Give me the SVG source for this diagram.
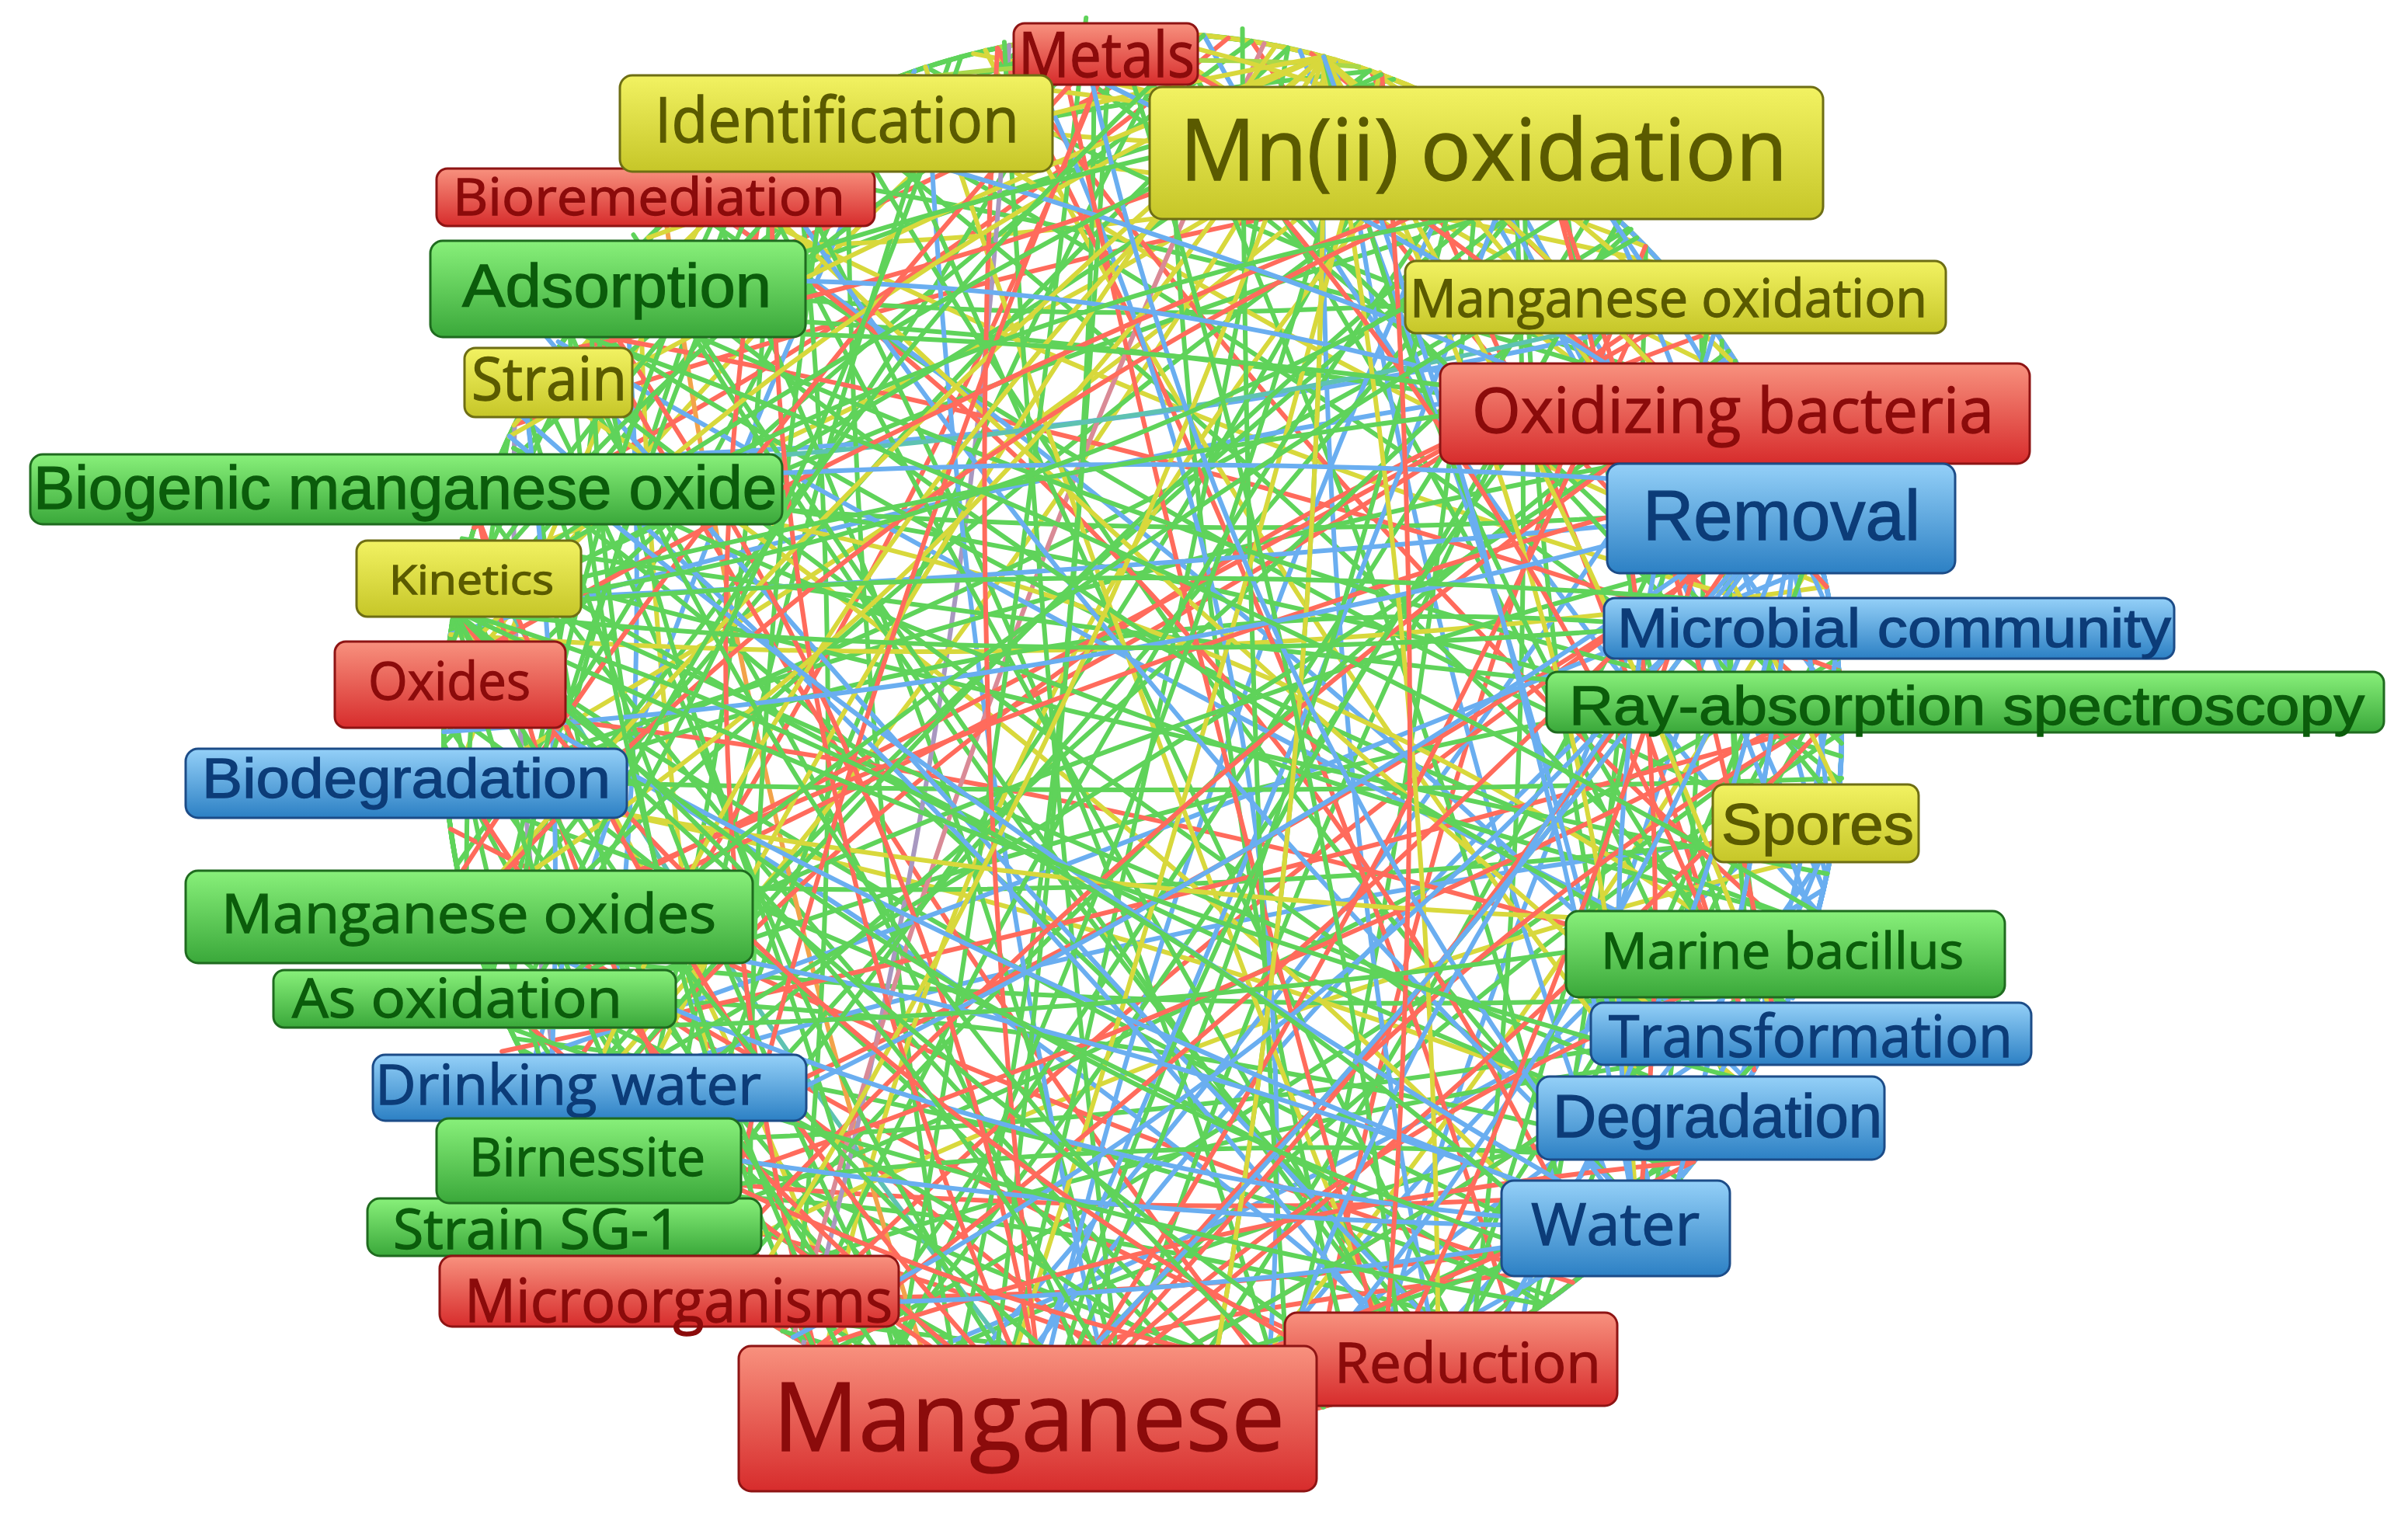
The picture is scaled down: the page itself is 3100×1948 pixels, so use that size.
<svg xmlns="http://www.w3.org/2000/svg" width="3100" height="1948" viewBox="0 0 3100 1948">
<style>
.c use{fill:none;stroke-width:6;stroke-linecap:round}
.g{stroke:#5fd35a}.r{stroke:#ff6b5c}.b{stroke:#6aaef0}.y{stroke:#d8d83c}.p{stroke:#a898c0}.t{stroke:#5ec2b2}.o{stroke:#f2a34a}.l{stroke:#a9d84a}.k{stroke:#d98a96}
.nd rect{stroke-width:3}
.nd text{stroke-width:1.3}
.nY rect{fill:url(#gy);stroke:#6e6e14}.nY text{fill:#5a5a00;stroke:#5a5a00}
.nR rect{fill:url(#gr);stroke:#8e1414}.nR text{fill:#8b0b0b;stroke:#8b0b0b}
.nG rect{fill:url(#gg);stroke:#1f6b1f}.nG text{fill:#0b5c0b;stroke:#0b5c0b}
.nB rect{fill:url(#gb);stroke:#1c4c88}.nB text{fill:#0c3c78;stroke:#0c3c78}
.os{font-family:"Open Sans","Noto Sans","Liberation Sans",sans-serif}
.ls{font-family:"Liberation Sans",Arial,sans-serif}
</style>
<defs>
<linearGradient id="gy" x1="0" y1="0" x2="0" y2="1"><stop offset="0" stop-color="#f2f262"/><stop offset="1" stop-color="#c6c628"/></linearGradient>
<linearGradient id="gr" x1="0" y1="0" x2="0" y2="1"><stop offset="0" stop-color="#f8917e"/><stop offset="1" stop-color="#d72c2c"/></linearGradient>
<linearGradient id="gg" x1="0" y1="0" x2="0" y2="1"><stop offset="0" stop-color="#88f07a"/><stop offset="1" stop-color="#3aa83a"/></linearGradient>
<linearGradient id="gb" x1="0" y1="0" x2="0" y2="1"><stop offset="0" stop-color="#94d0f8"/><stop offset="1" stop-color="#2c80c4"/></linearGradient>
<path id="a10" d="M886,-156 Q913,0 886,156"/>
<path id="a20" d="M846,-308 Q954,0 846,308"/>
<path id="b20" d="M846,-308 Q880,0 846,308"/>
<path id="c30" d="M779,-450 Q820,0 779,450"/>
<path id="d30" d="M779,-450 Q740,0 779,450"/>
<path id="e40" d="M689,-579 Q740,0 689,579"/>
<path id="f40" d="M689,-579 Q620,0 689,579"/>
<path id="g50" d="M579,-689 Q640,0 579,689"/>
<path id="h50" d="M579,-689 Q500,0 579,689"/>
<path id="i60" d="M450,-779 Q520,0 450,779"/>
<path id="j60" d="M450,-779 Q360,0 450,779"/>
<path id="k70" d="M308,-846 Q380,0 308,846"/>
<path id="l70" d="M308,-846 Q220,0 308,846"/>
<path id="m80" d="M156,-886 Q240,0 156,886"/>
<path id="n80" d="M156,-886 Q60,0 156,886"/>
<path id="o90" d="M0,-900 Q30,0 0,900"/>
<path id="p90" d="M0,-900 Q-250,0 0,900"/>
<path id="e4s" d="M689,-579 Q800,0 689,579"/>
<path id="f4s" d="M689,-579 Q560,0 689,579"/>
<path id="g5s" d="M579,-689 Q720,0 579,689"/>
<path id="h5s" d="M579,-689 Q430,0 579,689"/>
<path id="i6s" d="M450,-779 Q620,0 450,779"/>
<path id="j6s" d="M450,-779 Q270,0 450,779"/>
<path id="k7s" d="M308,-846 Q500,0 308,846"/>
<path id="l7s" d="M308,-846 Q110,0 308,846"/>
</defs>
<rect width="3100" height="1948" fill="#ffffff"/>
<g id="connectors" class="c" transform="translate(1471 942)">
<use href="#a20" class="g" transform="rotate(0)"/>
<use href="#a20" class="b" transform="rotate(8)"/>
<use href="#a10" class="b" transform="rotate(15)"/>
<use href="#a20" class="b" transform="rotate(22)"/>
<use href="#a10" class="b" transform="rotate(30)"/>
<use href="#a20" class="g" transform="rotate(38)"/>
<use href="#a10" class="b" transform="rotate(45)"/>
<use href="#a20" class="b" transform="rotate(52)"/>
<use href="#a10" class="r" transform="rotate(60)"/>
<use href="#a20" class="g" transform="rotate(68)"/>
<use href="#a10" class="g" transform="rotate(75)"/>
<use href="#a20" class="r" transform="rotate(83)"/>
<use href="#a10" class="g" transform="rotate(90)"/>
<use href="#a20" class="r" transform="rotate(98)"/>
<use href="#a10" class="g" transform="rotate(105)"/>
<use href="#a20" class="g" transform="rotate(112)"/>
<use href="#a10" class="g" transform="rotate(120)"/>
<use href="#a20" class="r" transform="rotate(128)"/>
<use href="#a10" class="g" transform="rotate(135)"/>
<use href="#a20" class="g" transform="rotate(142)"/>
<use href="#a10" class="g" transform="rotate(150)"/>
<use href="#a20" class="g" transform="rotate(158)"/>
<use href="#a10" class="g" transform="rotate(165)"/>
<use href="#a20" class="g" transform="rotate(172)"/>
<use href="#a10" class="g" transform="rotate(180)"/>
<use href="#a20" class="g" transform="rotate(188)"/>
<use href="#a10" class="y" transform="rotate(195)"/>
<use href="#a20" class="g" transform="rotate(202)"/>
<use href="#a10" class="g" transform="rotate(210)"/>
<use href="#a20" class="g" transform="rotate(218)"/>
<use href="#a10" class="r" transform="rotate(225)"/>
<use href="#a20" class="g" transform="rotate(232)"/>
<use href="#a10" class="y" transform="rotate(240)"/>
<use href="#a20" class="g" transform="rotate(248)"/>
<use href="#a10" class="g" transform="rotate(255)"/>
<use href="#a20" class="g" transform="rotate(262)"/>
<use href="#a10" class="g" transform="rotate(270)"/>
<use href="#a20" class="l" transform="rotate(278)"/>
<use href="#a10" class="g" transform="rotate(285)"/>
<use href="#a20" class="y" transform="rotate(292)"/>
<use href="#a10" class="y" transform="rotate(300)"/>
<use href="#a20" class="y" transform="rotate(308)"/>
<use href="#a10" class="g" transform="rotate(315)"/>
<use href="#a20" class="b" transform="rotate(322)"/>
<use href="#a10" class="b" transform="rotate(330)"/>
<use href="#a20" class="b" transform="rotate(338)"/>
<use href="#a10" class="b" transform="rotate(345)"/>
<use href="#a20" class="g" transform="rotate(352)"/>
<use href="#a20" class="b" transform="rotate(355)"/>
<use href="#a20" class="b" transform="rotate(5)"/>
<use href="#a20" class="b" transform="rotate(12)"/>
<use href="#a20" class="b" transform="rotate(18)"/>
<use href="#a20" class="b" transform="rotate(28)"/>
<use href="#a20" class="b" transform="rotate(340)"/>
<use href="#a10" class="b" transform="rotate(20)"/>
<use href="#a10" class="b" transform="rotate(35)"/>
<use href="#a20" class="g" transform="rotate(165)"/>
<use href="#a20" class="g" transform="rotate(175)"/>
<use href="#a20" class="g" transform="rotate(185)"/>
<use href="#a20" class="g" transform="rotate(195)"/>
<use href="#e40" class="g" transform="rotate(3)"/>
<use href="#f40" class="b" transform="rotate(17)"/>
<use href="#e40" class="g" transform="rotate(31)"/>
<use href="#f40" class="b" transform="rotate(44)"/>
<use href="#e40" class="r" transform="rotate(58)"/>
<use href="#f40" class="g" transform="rotate(72)"/>
<use href="#e40" class="r" transform="rotate(86)"/>
<use href="#f40" class="g" transform="rotate(99)"/>
<use href="#e40" class="g" transform="rotate(113)"/>
<use href="#f40" class="r" transform="rotate(127)"/>
<use href="#e40" class="g" transform="rotate(141)"/>
<use href="#f40" class="y" transform="rotate(154)"/>
<use href="#e40" class="g" transform="rotate(168)"/>
<use href="#f40" class="b" transform="rotate(182)"/>
<use href="#e40" class="g" transform="rotate(196)"/>
<use href="#f40" class="g" transform="rotate(209)"/>
<use href="#e40" class="y" transform="rotate(223)"/>
<use href="#f40" class="r" transform="rotate(237)"/>
<use href="#e40" class="g" transform="rotate(251)"/>
<use href="#f40" class="y" transform="rotate(264)"/>
<use href="#e40" class="y" transform="rotate(278)"/>
<use href="#f40" class="g" transform="rotate(292)"/>
<use href="#e40" class="y" transform="rotate(306)"/>
<use href="#f40" class="r" transform="rotate(319)"/>
<use href="#e40" class="b" transform="rotate(333)"/>
<use href="#f40" class="g" transform="rotate(347)"/>
<use href="#c30" class="b" transform="rotate(10)"/>
<use href="#d30" class="g" transform="rotate(25)"/>
<use href="#c30" class="b" transform="rotate(39)"/>
<use href="#d30" class="b" transform="rotate(53)"/>
<use href="#c30" class="g" transform="rotate(66)"/>
<use href="#d30" class="r" transform="rotate(80)"/>
<use href="#c30" class="g" transform="rotate(94)"/>
<use href="#d30" class="r" transform="rotate(108)"/>
<use href="#c30" class="g" transform="rotate(121)"/>
<use href="#d30" class="g" transform="rotate(135)"/>
<use href="#c30" class="g" transform="rotate(149)"/>
<use href="#d30" class="g" transform="rotate(163)"/>
<use href="#c30" class="p" transform="rotate(176)"/>
<use href="#d30" class="g" transform="rotate(190)"/>
<use href="#c30" class="y" transform="rotate(204)"/>
<use href="#d30" class="g" transform="rotate(218)"/>
<use href="#c30" class="g" transform="rotate(231)"/>
<use href="#d30" class="r" transform="rotate(245)"/>
<use href="#c30" class="g" transform="rotate(259)"/>
<use href="#d30" class="y" transform="rotate(273)"/>
<use href="#c30" class="y" transform="rotate(286)"/>
<use href="#d30" class="y" transform="rotate(300)"/>
<use href="#c30" class="r" transform="rotate(314)"/>
<use href="#d30" class="b" transform="rotate(328)"/>
<use href="#c30" class="b" transform="rotate(342)"/>
<use href="#d30" class="g" transform="rotate(356)"/>
<use href="#g50" class="g" transform="rotate(6)"/>
<use href="#h50" class="b" transform="rotate(21)"/>
<use href="#g50" class="y" transform="rotate(35)"/>
<use href="#h50" class="g" transform="rotate(50)"/>
<use href="#g50" class="b" transform="rotate(63)"/>
<use href="#h50" class="g" transform="rotate(77)"/>
<use href="#g50" class="r" transform="rotate(91)"/>
<use href="#h50" class="g" transform="rotate(104)"/>
<use href="#g50" class="r" transform="rotate(118)"/>
<use href="#h50" class="g" transform="rotate(132)"/>
<use href="#g50" class="t" transform="rotate(146)"/>
<use href="#h50" class="g" transform="rotate(160)"/>
<use href="#g50" class="y" transform="rotate(174)"/>
<use href="#h50" class="g" transform="rotate(188)"/>
<use href="#g50" class="b" transform="rotate(201)"/>
<use href="#h50" class="g" transform="rotate(215)"/>
<use href="#g50" class="g" transform="rotate(229)"/>
<use href="#h50" class="y" transform="rotate(243)"/>
<use href="#g50" class="r" transform="rotate(256)"/>
<use href="#h50" class="g" transform="rotate(270)"/>
<use href="#g50" class="g" transform="rotate(284)"/>
<use href="#h50" class="y" transform="rotate(298)"/>
<use href="#g50" class="g" transform="rotate(311)"/>
<use href="#h50" class="b" transform="rotate(325)"/>
<use href="#g50" class="r" transform="rotate(339)"/>
<use href="#h50" class="g" transform="rotate(353)"/>
<use href="#i60" class="g" transform="rotate(2)"/>
<use href="#j60" class="r" transform="rotate(16)"/>
<use href="#i60" class="g" transform="rotate(29)"/>
<use href="#j60" class="b" transform="rotate(43)"/>
<use href="#i60" class="g" transform="rotate(57)"/>
<use href="#j60" class="y" transform="rotate(70)"/>
<use href="#i60" class="g" transform="rotate(84)"/>
<use href="#j60" class="g" transform="rotate(98)"/>
<use href="#i60" class="r" transform="rotate(112)"/>
<use href="#j60" class="b" transform="rotate(125)"/>
<use href="#i60" class="g" transform="rotate(139)"/>
<use href="#j60" class="g" transform="rotate(153)"/>
<use href="#i60" class="o" transform="rotate(167)"/>
<use href="#j60" class="g" transform="rotate(180)"/>
<use href="#i60" class="g" transform="rotate(194)"/>
<use href="#j60" class="r" transform="rotate(208)"/>
<use href="#i60" class="g" transform="rotate(222)"/>
<use href="#j60" class="y" transform="rotate(235)"/>
<use href="#i60" class="g" transform="rotate(249)"/>
<use href="#j60" class="b" transform="rotate(263)"/>
<use href="#i60" class="g" transform="rotate(277)"/>
<use href="#j60" class="y" transform="rotate(291)"/>
<use href="#i60" class="g" transform="rotate(304)"/>
<use href="#j60" class="r" transform="rotate(318)"/>
<use href="#i60" class="g" transform="rotate(332)"/>
<use href="#j60" class="b" transform="rotate(346)"/>
<use href="#k70" class="g" transform="rotate(9)"/>
<use href="#l70" class="g" transform="rotate(23)"/>
<use href="#k70" class="b" transform="rotate(37)"/>
<use href="#l70" class="r" transform="rotate(51)"/>
<use href="#k70" class="g" transform="rotate(64)"/>
<use href="#l70" class="b" transform="rotate(78)"/>
<use href="#k70" class="g" transform="rotate(92)"/>
<use href="#l70" class="y" transform="rotate(106)"/>
<use href="#k70" class="g" transform="rotate(119)"/>
<use href="#l70" class="g" transform="rotate(133)"/>
<use href="#k70" class="r" transform="rotate(147)"/>
<use href="#l70" class="g" transform="rotate(161)"/>
<use href="#k70" class="g" transform="rotate(175)"/>
<use href="#l70" class="p" transform="rotate(189)"/>
<use href="#k70" class="g" transform="rotate(203)"/>
<use href="#l70" class="y" transform="rotate(216)"/>
<use href="#k70" class="g" transform="rotate(230)"/>
<use href="#l70" class="g" transform="rotate(244)"/>
<use href="#k70" class="b" transform="rotate(258)"/>
<use href="#l70" class="g" transform="rotate(271)"/>
<use href="#k70" class="r" transform="rotate(285)"/>
<use href="#l70" class="g" transform="rotate(299)"/>
<use href="#k70" class="g" transform="rotate(313)"/>
<use href="#l70" class="y" transform="rotate(327)"/>
<use href="#k70" class="g" transform="rotate(341)"/>
<use href="#l70" class="b" transform="rotate(355)"/>
<use href="#m80" class="g" transform="rotate(5)"/>
<use href="#n80" class="b" transform="rotate(19)"/>
<use href="#m80" class="g" transform="rotate(33)"/>
<use href="#n80" class="g" transform="rotate(47)"/>
<use href="#m80" class="r" transform="rotate(61)"/>
<use href="#n80" class="g" transform="rotate(75)"/>
<use href="#m80" class="g" transform="rotate(88)"/>
<use href="#n80" class="r" transform="rotate(102)"/>
<use href="#m80" class="g" transform="rotate(116)"/>
<use href="#n80" class="y" transform="rotate(130)"/>
<use href="#m80" class="g" transform="rotate(144)"/>
<use href="#n80" class="g" transform="rotate(158)"/>
<use href="#m80" class="b" transform="rotate(172)"/>
<use href="#n80" class="g" transform="rotate(186)"/>
<use href="#m80" class="k" transform="rotate(200)"/>
<use href="#n80" class="g" transform="rotate(213)"/>
<use href="#m80" class="g" transform="rotate(227)"/>
<use href="#n80" class="r" transform="rotate(241)"/>
<use href="#m80" class="g" transform="rotate(255)"/>
<use href="#n80" class="y" transform="rotate(268)"/>
<use href="#m80" class="g" transform="rotate(282)"/>
<use href="#n80" class="g" transform="rotate(296)"/>
<use href="#m80" class="b" transform="rotate(310)"/>
<use href="#n80" class="g" transform="rotate(324)"/>
<use href="#m80" class="r" transform="rotate(338)"/>
<use href="#n80" class="g" transform="rotate(352)"/>
<use href="#o90" class="g" transform="rotate(12)"/>
<use href="#p90" class="y" transform="rotate(27)"/>
<use href="#o90" class="g" transform="rotate(41) translate(-80 0)"/>
<use href="#p90" class="r" transform="rotate(55)"/>
<use href="#o90" class="b" transform="rotate(69) translate(110 0)"/>
<use href="#p90" class="g" transform="rotate(83)"/>
<use href="#o90" class="g" transform="rotate(97) translate(-140 0)"/>
<use href="#p90" class="y" transform="rotate(111)"/>
<use href="#o90" class="g" transform="rotate(126) translate(60 0)"/>
<use href="#p90" class="r" transform="rotate(140)"/>
<use href="#o90" class="g" transform="rotate(155) translate(-40 0)"/>
<use href="#p90" class="b" transform="rotate(170)"/>
<use href="#o90" class="g" transform="rotate(33) translate(120 0)"/>
<use href="#o90" class="r" transform="rotate(62) translate(-150 0)"/>
<use href="#o90" class="g" transform="rotate(90) translate(60 0)"/>
<use href="#o90" class="b" transform="rotate(118) translate(-90 0)"/>
<use href="#o90" class="g" transform="rotate(145) translate(170 0)"/>
<use href="#o90" class="y" transform="rotate(160) translate(-30 0)"/>
<use href="#o90" class="g" transform="rotate(175) translate(100 0)"/>
<use href="#o90" class="g" transform="rotate(5) translate(-120 0)"/>
<use href="#o90" class="g" transform="rotate(8) translate(-200 0)"/>
<use href="#o90" class="b" transform="rotate(22) translate(170 0)"/>
<use href="#o90" class="g" transform="rotate(48) translate(-60 0)"/>
<use href="#o90" class="r" transform="rotate(76) translate(200 0)"/>
<use href="#o90" class="g" transform="rotate(103) translate(-20 0)"/>
<use href="#o90" class="y" transform="rotate(132) translate(-180 0)"/>
<use href="#o90" class="g" transform="rotate(151) translate(90 0)"/>
<use href="#o90" class="r" transform="rotate(166) translate(-110 0)"/>
<use href="#o90" class="g" transform="rotate(58) translate(20 0)"/>
<use href="#o90" class="b" transform="rotate(86) translate(-230 0)"/>
<use href="#o90" class="g" transform="rotate(113) translate(150 0)"/>
<use href="#o90" class="g" transform="rotate(178) translate(-160 0)"/>
<use href="#o90" class="b" transform="rotate(138) translate(230 0)"/>
<use href="#o90" class="y" transform="rotate(16) translate(60 0)"/>
<use href="#m80" class="g" transform="rotate(210) translate(-160 0)"/>
<use href="#m80" class="r" transform="rotate(250) translate(-120 0)"/>
<use href="#n80" class="g" transform="rotate(290) translate(-90 0)"/>
<use href="#n80" class="b" transform="rotate(320) translate(-60 0)"/>
<use href="#m80" class="g" transform="rotate(20) translate(-180 0)"/>
<use href="#n80" class="g" transform="rotate(70) translate(-100 0)"/>
<use href="#b20" class="b" transform="rotate(13)"/>
<use href="#b20" class="b" transform="rotate(27)"/>
<use href="#b20" class="g" transform="rotate(47)"/>
<use href="#b20" class="b" transform="rotate(62)"/>
<use href="#b20" class="r" transform="rotate(81)"/>
<use href="#b20" class="g" transform="rotate(101)"/>
<use href="#b20" class="g" transform="rotate(123)"/>
<use href="#b20" class="g" transform="rotate(143)"/>
<use href="#b20" class="g" transform="rotate(166)"/>
<use href="#b20" class="g" transform="rotate(185)"/>
<use href="#b20" class="g" transform="rotate(206)"/>
<use href="#b20" class="y" transform="rotate(226)"/>
<use href="#b20" class="g" transform="rotate(247)"/>
<use href="#b20" class="l" transform="rotate(268)"/>
<use href="#b20" class="y" transform="rotate(289)"/>
<use href="#b20" class="y" transform="rotate(309)"/>
<use href="#b20" class="b" transform="rotate(331)"/>
<use href="#b20" class="b" transform="rotate(350)"/>
<use href="#g50" class="g" transform="rotate(14)"/>
<use href="#i60" class="g" transform="rotate(40)"/>
<use href="#k70" class="r" transform="rotate(67)"/>
<use href="#h50" class="g" transform="rotate(88)"/>
<use href="#j60" class="g" transform="rotate(115)"/>
<use href="#l70" class="b" transform="rotate(137)"/>
<use href="#g50" class="g" transform="rotate(158)"/>
<use href="#i60" class="g" transform="rotate(184)"/>
<use href="#k70" class="y" transform="rotate(211)"/>
<use href="#h50" class="g" transform="rotate(239)"/>
<use href="#j60" class="t" transform="rotate(262)"/>
<use href="#l70" class="g" transform="rotate(289)"/>
<use href="#g50" class="g" transform="rotate(316)"/>
<use href="#i60" class="b" transform="rotate(343)"/>
<use href="#e40" class="g" transform="rotate(24)"/>
<use href="#n80" class="r" transform="rotate(49)"/>
<use href="#c30" class="g" transform="rotate(73)"/>
<use href="#m80" class="y" transform="rotate(96)"/>
<use href="#f40" class="g" transform="rotate(120)"/>
<use href="#d30" class="b" transform="rotate(178)"/>
<use href="#e40" class="g" transform="rotate(199)"/>
<use href="#m80" class="g" transform="rotate(225)"/>
<use href="#f40" class="r" transform="rotate(253)"/>
<use href="#c30" class="y" transform="rotate(280)"/>
<use href="#n80" class="g" transform="rotate(303)"/>
<use href="#e40" class="b" transform="rotate(336)"/>
<use href="#d30" class="g" transform="rotate(358)"/>
<use href="#c30" class="r" transform="rotate(128)"/>
<use href="#c30" class="r" transform="rotate(68)"/>
<use href="#e4s" class="r" transform="rotate(138)"/>
<use href="#e40" class="g" transform="rotate(58)"/>
<use href="#g5s" class="r" transform="rotate(148)"/>
<use href="#g50" class="r" transform="rotate(48)"/>
<use href="#i6s" class="g" transform="rotate(158)"/>
<use href="#i60" class="r" transform="rotate(38)"/>
<use href="#k7s" class="r" transform="rotate(168)"/>
<use href="#k70" class="r" transform="rotate(28)"/>
<use href="#m80" class="r" transform="rotate(178)"/>
<use href="#m80" class="g" transform="rotate(18)"/>
<use href="#h5s" class="r" transform="rotate(48)"/>
<use href="#j6s" class="r" transform="rotate(158)"/>
<use href="#f4s" class="r" transform="rotate(58)"/>
<use href="#l7s" class="g" transform="rotate(28)"/>
<use href="#e4s" class="r" transform="rotate(158)"/>
<use href="#f40" class="r" transform="rotate(78)"/>
<use href="#i6s" class="r" transform="rotate(178)"/>
<use href="#k70" class="r" transform="rotate(48)"/>
<use href="#g5s" class="g" transform="rotate(168)"/>
<use href="#c30" class="y" transform="rotate(315)"/>
<use href="#c30" class="y" transform="rotate(255)"/>
<use href="#e4s" class="y" transform="rotate(325)"/>
<use href="#e40" class="y" transform="rotate(245)"/>
<use href="#g50" class="y" transform="rotate(335)"/>
<use href="#g5s" class="y" transform="rotate(235)"/>
<use href="#i6s" class="y" transform="rotate(345)"/>
<use href="#i60" class="y" transform="rotate(225)"/>
<use href="#k70" class="y" transform="rotate(355)"/>
<use href="#k7s" class="y" transform="rotate(215)"/>
<use href="#m80" class="y" transform="rotate(5)"/>
<use href="#n80" class="y" transform="rotate(205)"/>
<use href="#h5s" class="g" transform="rotate(335)"/>
<use href="#j6s" class="y" transform="rotate(225)"/>
<use href="#e40" class="r" transform="rotate(345)"/>
<use href="#g5s" class="r" transform="rotate(355)"/>
<use href="#i60" class="r" transform="rotate(245)"/>
<use href="#k7s" class="r" transform="rotate(235)"/>
<use href="#e4s" class="r" transform="rotate(308)"/>
<use href="#g50" class="r" transform="rotate(218)"/>
<use href="#i6s" class="r" transform="rotate(328)"/>
<use href="#k70" class="r" transform="rotate(198)"/>
<use href="#m80" class="g" transform="rotate(348)"/>
<use href="#c30" class="b" transform="rotate(10)"/>
<use href="#e4s" class="b" transform="rotate(20)"/>
<use href="#e40" class="b" transform="rotate(300)"/>
<use href="#g5s" class="b" transform="rotate(30)"/>
<use href="#g50" class="b" transform="rotate(290)"/>
<use href="#i60" class="b" transform="rotate(40)"/>
<use href="#i6s" class="b" transform="rotate(280)"/>
<use href="#k7s" class="b" transform="rotate(50)"/>
<use href="#k70" class="b" transform="rotate(270)"/>
<use href="#m80" class="b" transform="rotate(60)"/>
<use href="#n80" class="b" transform="rotate(260)"/>
<use href="#h5s" class="b" transform="rotate(30)"/>
<use href="#e40" class="b" transform="rotate(85)"/>
<use href="#f4s" class="b" transform="rotate(5)"/>
<use href="#g50" class="b" transform="rotate(95)"/>
<use href="#i6s" class="b" transform="rotate(105)"/>
<use href="#i60" class="b" transform="rotate(345)"/>
<use href="#k70" class="b" transform="rotate(115)"/>
<use href="#l7s" class="b" transform="rotate(335)"/>
<use href="#m80" class="b" transform="rotate(125)"/>
<use href="#j60" class="b" transform="rotate(105)"/>
<use href="#e4s" class="r" transform="rotate(110)"/>
<use href="#g50" class="r" transform="rotate(20)"/>
<use href="#i6s" class="r" transform="rotate(130)"/>
<use href="#k70" class="r" transform="rotate(0)"/>
<use href="#c30" class="g" transform="rotate(220)"/>
<use href="#c30" class="g" transform="rotate(160)"/>
<use href="#e4s" class="g" transform="rotate(230)"/>
<use href="#e40" class="g" transform="rotate(150)"/>
<use href="#g50" class="g" transform="rotate(240)"/>
<use href="#g5s" class="g" transform="rotate(140)"/>
<use href="#i6s" class="g" transform="rotate(250)"/>
<use href="#i60" class="g" transform="rotate(130)"/>
<use href="#k70" class="g" transform="rotate(260)"/>
<use href="#k7s" class="g" transform="rotate(120)"/>
<use href="#m80" class="g" transform="rotate(270)"/>
<use href="#m80" class="g" transform="rotate(110)"/>
<use href="#h5s" class="g" transform="rotate(140)"/>
<use href="#j6s" class="g" transform="rotate(250)"/>
<use href="#l7s" class="g" transform="rotate(120)"/>
<use href="#n80" class="g" transform="rotate(270)"/>
<use href="#e40" class="g" transform="rotate(255)"/>
<use href="#g5s" class="g" transform="rotate(165)"/>
<use href="#i60" class="g" transform="rotate(275)"/>
<use href="#k7s" class="g" transform="rotate(145)"/>
<use href="#m80" class="g" transform="rotate(295)"/>
<use href="#e4s" class="g" transform="rotate(195)"/>
<use href="#g50" class="g" transform="rotate(105)"/>
<use href="#i6s" class="g" transform="rotate(215)"/>
<use href="#k70" class="g" transform="rotate(85)"/>
<use href="#m80" class="g" transform="rotate(235)"/>
<use href="#h50" class="g" transform="rotate(205)"/>
</g>
<g id="nodes">
<g id="n-metals" class="nd nR"><rect x="1305" y="30" width="237" height="79" rx="14"/><text class="os" x="1311" y="99" font-size="80" textLength="227" lengthAdjust="spacingAndGlyphs">Metals</text></g>
<g id="n-bioremediation" class="nd nR"><rect x="562" y="217" width="564" height="74" rx="14"/><text class="os" x="583" y="277" font-size="66" textLength="505" lengthAdjust="spacingAndGlyphs">Bioremediation</text></g>
<g id="n-identification" class="nd nY"><rect x="798" y="97" width="557" height="124" rx="16"/><text class="os" x="843" y="183" font-size="81" textLength="469" lengthAdjust="spacingAndGlyphs">Identification</text></g>
<g id="n-mnii-oxidation" class="nd nY"><rect x="1480" y="112" width="867" height="170" rx="16"/><text class="os" x="1519" y="232" font-size="109" textLength="782" lengthAdjust="spacingAndGlyphs">Mn(ii) oxidation</text></g>
<g id="n-adsorption" class="nd nG"><rect x="554" y="310" width="483" height="124" rx="16"/><text class="ls" x="595" y="395" font-size="77" textLength="398" lengthAdjust="spacingAndGlyphs">Adsorption</text></g>
<g id="n-manganese-oxidation" class="nd nY"><rect x="1809" y="336" width="696" height="93" rx="14"/><text class="os" x="1815" y="408" font-size="68" textLength="666" lengthAdjust="spacingAndGlyphs">Manganese oxidation</text></g>
<g id="n-strain" class="nd nY"><rect x="598" y="448" width="216" height="89" rx="14"/><text class="os" x="607" y="515" font-size="77" textLength="200" lengthAdjust="spacingAndGlyphs">Strain</text></g>
<g id="n-oxidizing-bacteria" class="nd nR"><rect x="1854" y="468" width="759" height="129" rx="16"/><text class="os" x="1895" y="557" font-size="80" textLength="672" lengthAdjust="spacingAndGlyphs">Oxidizing bacteria</text></g>
<g id="n-biogenic-manganese-oxide" class="nd nG"><rect x="39" y="585" width="968" height="90" rx="16"/><text class="ls" x="43" y="655" font-size="77" textLength="957" lengthAdjust="spacingAndGlyphs">Biogenic manganese oxide</text></g>
<g id="n-removal" class="nd nB"><rect x="2069" y="597" width="448" height="141" rx="16"/><text class="ls" x="2115" y="695" font-size="91" textLength="357" lengthAdjust="spacingAndGlyphs">Removal</text></g>
<g id="n-kinetics" class="nd nY"><rect x="459" y="696" width="289" height="98" rx="14"/><text class="os" x="501" y="765" font-size="51" textLength="212" lengthAdjust="spacingAndGlyphs">Kinetics</text></g>
<g id="n-microbial-community" class="nd nB"><rect x="2065" y="770" width="734" height="78" rx="14"/><text class="ls" x="2082" y="833" font-size="70" textLength="713" lengthAdjust="spacingAndGlyphs">Microbial community</text></g>
<g id="n-oxides" class="nd nR"><rect x="431" y="826" width="297" height="111" rx="14"/><text class="os" x="474" y="901" font-size="67" textLength="209" lengthAdjust="spacingAndGlyphs">Oxides</text></g>
<g id="n-ray-absorption" class="nd nG"><rect x="1991" y="865" width="1078" height="78" rx="14"/><text class="ls" x="2020" y="933" font-size="70" textLength="1024" lengthAdjust="spacingAndGlyphs">Ray-absorption spectroscopy</text></g>
<g id="n-biodegradation" class="nd nB"><rect x="239" y="964" width="568" height="89" rx="16"/><text class="ls" x="260" y="1027" font-size="72" textLength="526" lengthAdjust="spacingAndGlyphs">Biodegradation</text></g>
<g id="n-spores" class="nd nY"><rect x="2205" y="1010" width="265" height="100" rx="14"/><text class="ls" x="2216" y="1087" font-size="75" textLength="248" lengthAdjust="spacingAndGlyphs">Spores</text></g>
<g id="n-manganese-oxides" class="nd nG"><rect x="239" y="1121" width="730" height="119" rx="16"/><text class="os" x="285" y="1201" font-size="70" textLength="637" lengthAdjust="spacingAndGlyphs">Manganese oxides</text></g>
<g id="n-marine-bacillus" class="nd nG"><rect x="2016" y="1173" width="565" height="111" rx="16"/><text class="os" x="2061" y="1247" font-size="64" textLength="467" lengthAdjust="spacingAndGlyphs">Marine bacillus</text></g>
<g id="n-as-oxidation" class="nd nG"><rect x="352" y="1249" width="518" height="74" rx="14"/><text class="os" x="376" y="1310" font-size="70" textLength="425" lengthAdjust="spacingAndGlyphs">As oxidation</text></g>
<g id="n-transformation" class="nd nB"><rect x="2048" y="1291" width="567" height="80" rx="16"/><text class="os" x="2071" y="1361" font-size="75" textLength="520" lengthAdjust="spacingAndGlyphs">Transformation</text></g>
<g id="n-drinking-water" class="nd nB"><rect x="480" y="1358" width="558" height="85" rx="16"/><text class="os" x="483" y="1422" font-size="72" textLength="497" lengthAdjust="spacingAndGlyphs">Drinking water</text></g>
<g id="n-degradation" class="nd nB"><rect x="1979" y="1386" width="447" height="107" rx="16"/><text class="ls" x="1999" y="1464" font-size="78" textLength="424" lengthAdjust="spacingAndGlyphs">Degradation</text></g>
<g id="n-strain-sg1" class="nd nG"><rect x="473" y="1543" width="507" height="74" rx="16"/><text class="os" x="506" y="1608" font-size="72" textLength="370" lengthAdjust="spacingAndGlyphs">Strain SG-1</text></g>
<g id="n-birnessite" class="nd nG"><rect x="562" y="1440" width="392" height="109" rx="16"/><text class="os" x="604" y="1514" font-size="67" textLength="304" lengthAdjust="spacingAndGlyphs">Birnessite</text></g>
<g id="n-water" class="nd nB"><rect x="1933" y="1520" width="294" height="123" rx="16"/><text class="os" x="1971" y="1603" font-size="75" textLength="217" lengthAdjust="spacingAndGlyphs">Water</text></g>
<g id="n-microorganisms" class="nd nR"><rect x="566" y="1617" width="591" height="91" rx="16"/><text class="os" x="598" y="1702" font-size="76" textLength="551" lengthAdjust="spacingAndGlyphs">Microorganisms</text></g>
<g id="n-reduction" class="nd nR"><rect x="1654" y="1690" width="428" height="120" rx="16"/><text class="os" x="1718" y="1780" font-size="72" textLength="343" lengthAdjust="spacingAndGlyphs">Reduction</text></g>
<g id="n-manganese" class="nd nR"><rect x="951" y="1733" width="744" height="187" rx="16"/><text class="os" x="995" y="1868" font-size="122" textLength="659" lengthAdjust="spacingAndGlyphs">Manganese</text></g>
</g>
</svg>
